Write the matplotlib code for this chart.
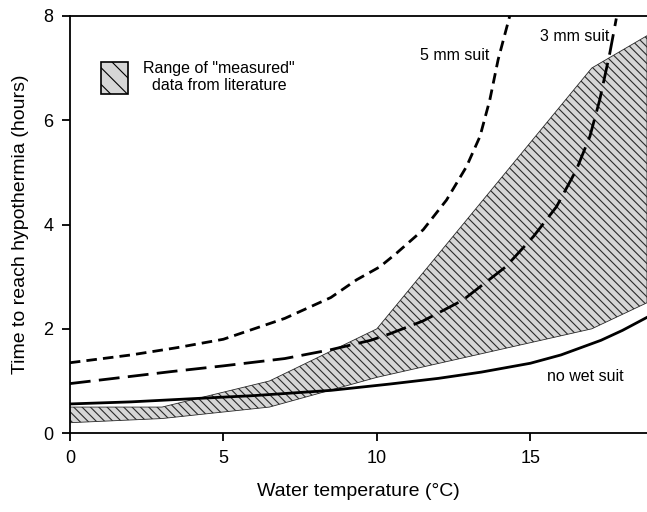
import numpy as np
import matplotlib
matplotlib.use("Agg")
import matplotlib.pyplot as plt
from matplotlib.patches import Patch

plt.rcParams['font.family'] = ['Liberation Sans', 'DejaVu Sans']
plt.rcParams['hatch.linewidth'] = 0.8

# no wet suit (solid)
t_none = [0, 2, 4.3, 6, 8.5, 10.4, 12, 13.4, 15, 16, 17.3, 18, 18.8]
h_none = [0.56, 0.6, 0.67, 0.72, 0.82, 0.94, 1.05, 1.17, 1.34, 1.5, 1.78, 1.97, 2.22]

# 3 mm suit (long dash)
t_3mm = [0, 3.3, 5, 7, 8.5, 9.8, 10.4, 11.5, 12.8, 14.2, 15.1, 15.85, 16.5, 16.94, 17.26, 17.59, 17.8]
h_3mm = [0.95, 1.18, 1.29, 1.43, 1.6, 1.78, 1.9, 2.15, 2.55, 3.19, 3.77, 4.34, 5.05, 5.69, 6.39, 7.29, 7.95]

# 5 mm suit (short dash)
t_5mm = [0, 2, 3.5, 5, 7, 8.5, 9.34, 10.1, 10.64, 11.51, 12.27, 12.92, 13.36, 13.68, 13.95, 14.33]
h_5mm = [1.35, 1.5, 1.64, 1.8, 2.2, 2.6, 2.94, 3.19, 3.45, 3.9, 4.47, 5.11, 5.69, 6.39, 7.16, 8.0]

# range of measured data (polygon bounds)
t_rng = [0, 3, 6.5, 10, 17, 18.8]
rng_hi = [0.5, 0.5, 1.0, 2.0, 7.0, 7.62]
rng_lo = [0.2, 0.28, 0.5, 1.07, 2.0, 2.5]

fig = plt.figure(figsize=(6.47, 5.12), dpi=100)
ax = fig.add_axes([0.108, 0.154, 0.892, 0.815])

ax.fill_between(t_rng, rng_lo, rng_hi, facecolor='#d6d6d6', edgecolor='#2a2a2a',
                hatch='\\' * 4, linewidth=0.6, zorder=1)
ax.plot(t_none, h_none, color='black', lw=2, zorder=3)
ax.plot(t_3mm, h_3mm, color='black', lw=2, dashes=(7.5, 3), zorder=3)
ax.plot(t_5mm, h_5mm, color='black', lw=2, dashes=(3.8, 2.2), zorder=3)

ax.text(13.68, 7.24, '5 mm suit', fontsize=11.5, ha='right', va='center')
ax.text(17.56, 7.6, '3 mm suit', fontsize=11.5, ha='right', va='center')
ax.text(18.05, 1.09, 'no wet suit', fontsize=11.5, ha='right', va='center')

h = Patch(facecolor='#d6d6d6', edgecolor='black', hatch='\\\\', linewidth=1.2)
leg = ax.legend([h], ['Range of "measured"\ndata from literature'], loc='upper left',
                bbox_to_anchor=(0.0537, 0.892), frameon=False, fontsize=11.5,
                borderpad=0, borderaxespad=0,
                handlelength=1.7, handleheight=2.7, handletextpad=0.95)
for t in leg.get_texts():
    t.set_multialignment('center')

ax.set_xlim(0, 18.8)
ax.set_ylim(0, 8)
ax.set_xticks([0, 5, 10, 15])
ax.set_yticks([0, 2, 4, 6, 8])
ax.spines['right'].set_visible(False)
for s in ['left', 'bottom', 'top']:
    ax.spines[s].set_linewidth(1.3)
ax.tick_params(direction='out', length=6, width=1.3, labelsize=13, pad=6)
ax.set_xlabel('Water temperature (°C)', fontsize=14, labelpad=12)
ax.set_ylabel('Time to reach hypothermia (hours)', fontsize=14, labelpad=10)

fig.savefig('out.png', dpi=100)
